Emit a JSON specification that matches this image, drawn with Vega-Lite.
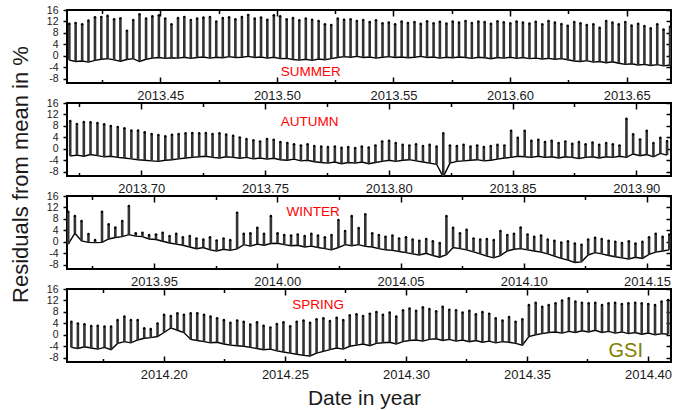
{
"$schema":"https://vega.github.io/schema/vega-lite/v6.json",
"padding":{"left":7,"top":4,"right":4,"bottom":2},
"spacing":20,
"bounds":"flush",
"config":{"font":"Liberation Sans","view":{"stroke":"black","strokeWidth":2},"axis":{"domain":false,"grid":false,"tickColor":"black","labelColor":"#1a1a1a","labelFont":"Liberation Sans","titleFont":"Liberation Sans","titleFontWeight":"normal","titleColor":"#1a1a1a","labelOverlap":false,"labelFlush":false}},
"datasets":{
"summer":[{"t":2013.411,"l":-1.5,"h":11.2},{"t":2013.4137,"l":-2,"h":11.5},{"t":2013.4165,"l":-1.8,"h":11},{"t":2013.4192,"l":-2.2,"h":12.3},{"t":2013.422,"l":-1.6,"h":13.5},{"t":2013.4247,"l":-1.2,"h":13.6},{"t":2013.4274,"l":-1,"h":14},{"t":2013.4302,"l":-1.4,"h":12.8},{"t":2013.4329,"l":-1.9,"h":13.1},{"t":2013.4357,"l":-1.3,"h":8.8},
{"t":2013.4384,"l":-1,"h":12.5},{"t":2013.4411,"l":-2,"h":14.5},{"t":2013.4439,"l":-1.2,"h":13},{"t":2013.4466,"l":-0.8,"h":13.8},{"t":2013.4494,"l":-0.6,"h":14.2},{"t":2013.4521,"l":-0.9,"h":13},{"t":2013.4548,"l":-0.7,"h":11},{"t":2013.4576,"l":-0.8,"h":13.2},{"t":2013.4603,"l":-0.5,"h":13.6},{"t":2013.4631,"l":-0.9,"h":12.5},
{"t":2013.4658,"l":-0.6,"h":13},{"t":2013.4685,"l":-0.4,"h":13.4},{"t":2013.4713,"l":-0.8,"h":13.6},{"t":2013.474,"l":-0.5,"h":12},{"t":2013.4768,"l":-0.7,"h":13.2},{"t":2013.4795,"l":-0.3,"h":13.5},{"t":2013.4822,"l":-0.6,"h":12.8},{"t":2013.485,"l":-0.5,"h":13.6},{"t":2013.4877,"l":-0.2,"h":14.3},{"t":2013.4905,"l":-0.6,"h":13},
{"t":2013.4932,"l":-0.4,"h":13.4},{"t":2013.4959,"l":-0.8,"h":12.6},{"t":2013.4987,"l":-0.5,"h":14.2},{"t":2013.5014,"l":-1,"h":13.8},{"t":2013.5042,"l":-0.9,"h":12.8},{"t":2013.5069,"l":-1.3,"h":13.2},{"t":2013.5096,"l":-1.5,"h":12.4},{"t":2013.5124,"l":-1.2,"h":13},{"t":2013.5151,"l":-1.6,"h":12.6},{"t":2013.5179,"l":-1.1,"h":12.2},
{"t":2013.5206,"l":-1.4,"h":11},{"t":2013.5233,"l":-1,"h":10.8},{"t":2013.5261,"l":-0.6,"h":13},{"t":2013.5288,"l":-0.3,"h":12.6},{"t":2013.5316,"l":-0.5,"h":12.8},{"t":2013.5343,"l":-0.2,"h":12.2},{"t":2013.537,"l":-0.6,"h":12.5},{"t":2013.5398,"l":-0.4,"h":11.8},{"t":2013.5425,"l":-0.8,"h":12.4},{"t":2013.5453,"l":-0.5,"h":11.4},
{"t":2013.548,"l":-0.3,"h":11.6},{"t":2013.5507,"l":-0.6,"h":11},{"t":2013.5535,"l":-0.4,"h":12},{"t":2013.5562,"l":-0.7,"h":11.5},{"t":2013.559,"l":-0.5,"h":11.8},{"t":2013.5617,"l":-0.2,"h":11.2},{"t":2013.5644,"l":-0.6,"h":12.1},{"t":2013.5672,"l":-0.4,"h":11.4},{"t":2013.5699,"l":-0.8,"h":11.9},{"t":2013.5727,"l":-0.5,"h":11.3},
{"t":2013.5754,"l":-0.7,"h":12},{"t":2013.5781,"l":-0.4,"h":11.6},{"t":2013.5809,"l":-0.6,"h":12.2},{"t":2013.5836,"l":-0.9,"h":11.5},{"t":2013.5864,"l":-0.5,"h":12},{"t":2013.5891,"l":-0.7,"h":11.8},{"t":2013.5918,"l":-1,"h":11.2},{"t":2013.5946,"l":-0.6,"h":12.1},{"t":2013.5973,"l":-0.8,"h":11.7},{"t":2013.6001,"l":-0.5,"h":11.4},
{"t":2013.6028,"l":-0.9,"h":12},{"t":2013.6055,"l":-0.6,"h":11.6},{"t":2013.6083,"l":-1,"h":11.3},{"t":2013.611,"l":-0.8,"h":11.9},{"t":2013.6138,"l":-1.1,"h":11},{"t":2013.6165,"l":-0.9,"h":12.2},{"t":2013.6192,"l":-1.2,"h":11.6},{"t":2013.622,"l":-1,"h":11.1},{"t":2013.6247,"l":-1.4,"h":10.5},{"t":2013.6275,"l":-1.8,"h":11.8},
{"t":2013.6302,"l":-2,"h":11.4},{"t":2013.6329,"l":-1.7,"h":10.8},{"t":2013.6357,"l":-2.2,"h":11},{"t":2013.6384,"l":-2,"h":9.8},{"t":2013.6412,"l":-2.4,"h":12.2},{"t":2013.6439,"l":-2.1,"h":11.6},{"t":2013.6466,"l":-2.6,"h":11},{"t":2013.6494,"l":-3,"h":11.8},{"t":2013.6521,"l":-2.8,"h":10.6},{"t":2013.6549,"l":-3.2,"h":11.2},
{"t":2013.6576,"l":-3,"h":10.4},{"t":2013.6603,"l":-3.4,"h":9.6},{"t":2013.6631,"l":-3.1,"h":11},{"t":2013.6658,"l":-3.5,"h":9.2},{"t":2013.6686,"l":-3.2,"h":10.2}],
"autumn":[{"t":2013.6713,"l":-2.5,"h":9.7},{"t":2013.674,"l":-2.2,"h":8.7},{"t":2013.6768,"l":-2.6,"h":9.4},{"t":2013.6795,"l":-2,"h":9.3},{"t":2013.6823,"l":-2.4,"h":9},
{"t":2013.685,"l":-2.8,"h":8.6},{"t":2013.6877,"l":-2.6,"h":8},{"t":2013.6905,"l":-3,"h":7.6},{"t":2013.6932,"l":-3.2,"h":7.2},{"t":2013.696,"l":-3.5,"h":6.4},{"t":2013.6987,"l":-3.8,"h":6.4},{"t":2013.7014,"l":-4,"h":5.8},{"t":2013.7042,"l":-4.2,"h":5.2},{"t":2013.7069,"l":-4.4,"h":4.8},{"t":2013.7097,"l":-4,"h":4.4},
{"t":2013.7124,"l":-3.8,"h":4.9},{"t":2013.7151,"l":-3.5,"h":5.2},{"t":2013.7179,"l":-3.2,"h":5.4},{"t":2013.7206,"l":-3,"h":5.5},{"t":2013.7234,"l":-2.8,"h":5.4},{"t":2013.7261,"l":-2.6,"h":5.5},{"t":2013.7288,"l":-3,"h":5.2},{"t":2013.7316,"l":-3.2,"h":5.4},{"t":2013.7343,"l":-2.8,"h":5},{"t":2013.7371,"l":-3,"h":4.6},
{"t":2013.7398,"l":-3.3,"h":4},{"t":2013.7425,"l":-3,"h":3.4},{"t":2013.7453,"l":-3.5,"h":3},{"t":2013.748,"l":-3.2,"h":2.6},{"t":2013.7508,"l":-3.6,"h":3.4},{"t":2013.7535,"l":-3.3,"h":3.2},{"t":2013.7562,"l":-3.8,"h":2.4},{"t":2013.759,"l":-4,"h":2},{"t":2013.7617,"l":-3.6,"h":1.6},{"t":2013.7645,"l":-4.2,"h":1.2},
{"t":2013.7672,"l":-4,"h":1.6},{"t":2013.7699,"l":-4.5,"h":1},{"t":2013.7727,"l":-4.8,"h":0.8},{"t":2013.7754,"l":-5,"h":0.6},{"t":2013.7782,"l":-4.6,"h":0.8},{"t":2013.7809,"l":-5.2,"h":0.4},{"t":2013.7836,"l":-4.8,"h":0.6},{"t":2013.7864,"l":-5,"h":0.3},{"t":2013.7891,"l":-4.6,"h":0.8},{"t":2013.7919,"l":-5.2,"h":0.5},
{"t":2013.7946,"l":-4.8,"h":1.2},{"t":2013.7973,"l":-4.4,"h":2.6},{"t":2013.8001,"l":-4,"h":2.8},{"t":2013.8028,"l":-4.4,"h":2},{"t":2013.8056,"l":-4,"h":1.4},{"t":2013.8083,"l":-3.8,"h":1.2},{"t":2013.811,"l":-4.2,"h":1.6},{"t":2013.8138,"l":-4.6,"h":1},{"t":2013.8165,"l":-5,"h":1.4},{"t":2013.8193,"l":-5.4,"h":0.8},
{"t":2013.822,"l":-9.8,"h":5.4},{"t":2013.8247,"l":-5,"h":1.2},{"t":2013.8275,"l":-4.4,"h":1},{"t":2013.8302,"l":-4.2,"h":1.4},{"t":2013.833,"l":-4,"h":0.8},{"t":2013.8357,"l":-3.8,"h":1.2},{"t":2013.8384,"l":-4.2,"h":0.6},{"t":2013.8412,"l":-4,"h":1},{"t":2013.8439,"l":-3.6,"h":1.4},{"t":2013.8467,"l":-3.2,"h":1.2},
{"t":2013.8494,"l":-3,"h":6.3},{"t":2013.8521,"l":-2.6,"h":3.9},{"t":2013.8549,"l":-2.8,"h":6.3},{"t":2013.8576,"l":-3,"h":2.8},{"t":2013.8604,"l":-2.6,"h":3.2},{"t":2013.8631,"l":-3,"h":2.4},{"t":2013.8658,"l":-2.8,"h":2.8},{"t":2013.8686,"l":-3.2,"h":2},{"t":2013.8713,"l":-2.8,"h":2.6},{"t":2013.8741,"l":-3,"h":1.8},
{"t":2013.8768,"l":-3.4,"h":2.4},{"t":2013.8795,"l":-3,"h":1.6},{"t":2013.8823,"l":-2.8,"h":2.2},{"t":2013.885,"l":-3.2,"h":1.4},{"t":2013.8878,"l":-2.8,"h":2},{"t":2013.8905,"l":-3,"h":1.6},{"t":2013.8932,"l":-2.6,"h":1.2},{"t":2013.896,"l":-3,"h":10.5},{"t":2013.8987,"l":-1.8,"h":5.1},{"t":2013.9015,"l":-2.4,"h":3.3},
{"t":2013.9042,"l":-2,"h":6.3},{"t":2013.9069,"l":-2.8,"h":2},{"t":2013.9097,"l":-1.6,"h":3.9},{"t":2013.9124,"l":-2.2,"h":2.7}],
"winter":[{"t":2013.9152,"l":-0.8,"h":10.5},{"t":2013.9179,"l":3,"h":9},{"t":2013.9206,"l":0.3,"h":7.3},{"t":2013.9234,"l":-0.2,"h":2.7},{"t":2013.9261,"l":-0.3,"h":0.6},{"t":2013.9289,"l":-0.2,"h":10.5},
{"t":2013.9316,"l":1,"h":6.1},{"t":2013.9343,"l":1.5,"h":5},{"t":2013.9371,"l":1.8,"h":7.3},{"t":2013.9398,"l":2.5,"h":12.5},{"t":2013.9426,"l":2,"h":3},{"t":2013.9453,"l":1.8,"h":3.2},{"t":2013.948,"l":1,"h":2.4},{"t":2013.9508,"l":0.8,"h":2.6},{"t":2013.9535,"l":0.2,"h":3.2},{"t":2013.9563,"l":-0.4,"h":2},
{"t":2013.959,"l":-0.8,"h":2.8},{"t":2013.9617,"l":-1.2,"h":1.6},{"t":2013.9645,"l":-1.8,"h":2},{"t":2013.9672,"l":-2.4,"h":1.2},{"t":2013.97,"l":-2,"h":0.8},{"t":2013.9727,"l":-2.8,"h":1.6},{"t":2013.9754,"l":-3.2,"h":0.5},{"t":2013.9782,"l":-2.6,"h":1.2},{"t":2013.9809,"l":-3,"h":0.6},{"t":2013.9837,"l":-2.5,"h":10.2},
{"t":2013.9864,"l":-1,"h":2.8},{"t":2013.9891,"l":-1.5,"h":3},{"t":2013.9919,"l":-0.8,"h":4.9},{"t":2013.9946,"l":-1.2,"h":2.8},{"t":2013.9974,"l":-0.6,"h":9},{"t":2014.0001,"l":-0.5,"h":3},{"t":2014.0028,"l":-1,"h":2.4},{"t":2014.0056,"l":-1.4,"h":2.2},{"t":2014.0083,"l":-1.2,"h":2.6},{"t":2014.0111,"l":-1.8,"h":2},
{"t":2014.0138,"l":-1.5,"h":2.8},{"t":2014.0165,"l":-2,"h":2.2},{"t":2014.0193,"l":-2.4,"h":1.6},{"t":2014.022,"l":-2.8,"h":2.4},{"t":2014.0248,"l":-2,"h":7.6},{"t":2014.0275,"l":-1,"h":3.8},{"t":2014.0302,"l":-1.4,"h":9},{"t":2014.033,"l":-1,"h":4.8},{"t":2014.0357,"l":-1.6,"h":9.6},{"t":2014.0385,"l":-1.8,"h":3},
{"t":2014.0412,"l":-2.4,"h":2.4},{"t":2014.0439,"l":-2.8,"h":1.8},{"t":2014.0467,"l":-3,"h":2.2},{"t":2014.0494,"l":-3.4,"h":1.2},{"t":2014.0522,"l":-3.8,"h":1.6},{"t":2014.0549,"l":-4.2,"h":0.8},{"t":2014.0576,"l":-4.6,"h":0.4},{"t":2014.0604,"l":-4,"h":1},{"t":2014.0631,"l":-4.8,"h":0.2},{"t":2014.0659,"l":-5.4,"h":-0.4},
{"t":2014.0686,"l":-4.5,"h":9},{"t":2014.0713,"l":-2,"h":4.9},{"t":2014.0741,"l":-2.4,"h":3},{"t":2014.0768,"l":-2.8,"h":4.2},{"t":2014.0796,"l":-3.5,"h":1.2},{"t":2014.0823,"l":-4.2,"h":0.8},{"t":2014.085,"l":-5,"h":1},{"t":2014.0878,"l":-5.6,"h":0.6},{"t":2014.0905,"l":-4.8,"h":3.8},{"t":2014.0933,"l":-3.2,"h":2.4},
{"t":2014.096,"l":-2.6,"h":2.8},{"t":2014.0987,"l":-2.4,"h":5},{"t":2014.1015,"l":-2.8,"h":2.6},{"t":2014.1042,"l":-3.2,"h":1.8},{"t":2014.107,"l":-3.6,"h":2.2},{"t":2014.1097,"l":-4.2,"h":0.8},{"t":2014.1124,"l":-5,"h":0.4},{"t":2014.1152,"l":-5.8,"h":-0.2},{"t":2014.1179,"l":-6.4,"h":0.2},{"t":2014.1207,"l":-7.2,"h":-0.6},
{"t":2014.1234,"l":-7,"h":-1},{"t":2014.1261,"l":-4.6,"h":0.8},{"t":2014.1289,"l":-3.8,"h":1.4},{"t":2014.1316,"l":-4.2,"h":1},{"t":2014.1344,"l":-4.8,"h":0.4},{"t":2014.1371,"l":-5.2,"h":0},{"t":2014.1398,"l":-5.6,"h":-0.4},{"t":2014.1426,"l":-6,"h":0.2},{"t":2014.1453,"l":-5.4,"h":-0.6},{"t":2014.1481,"l":-5.8,"h":0},
{"t":2014.1508,"l":-4.4,"h":1.6},{"t":2014.1535,"l":-3.6,"h":2.8},{"t":2014.1563,"l":-3.2,"h":1.8},{"t":2014.159,"l":-2.8,"h":2.6}],
"spring":[{"t":2014.1618,"l":-4.4,"h":4.6},{"t":2014.1645,"l":-4.8,"h":4},{"t":2014.1672,"l":-4.2,"h":3.7},{"t":2014.17,"l":-4.6,"h":3.1},{"t":2014.1727,"l":-5,"h":3.2},{"t":2014.1755,"l":-4.4,"h":2.9},
{"t":2014.1782,"l":-5.2,"h":2.9},{"t":2014.1809,"l":-3,"h":5.2},{"t":2014.1837,"l":-2.4,"h":6.4},{"t":2014.1864,"l":-2.8,"h":5.2},{"t":2014.1892,"l":-1.8,"h":5.2},{"t":2014.1919,"l":-1.2,"h":2.3},{"t":2014.1946,"l":-1,"h":2},{"t":2014.1974,"l":-0.6,"h":4},{"t":2014.2001,"l":0.8,"h":7},{"t":2014.2029,"l":2.4,"h":6.6},
{"t":2014.2056,"l":1.6,"h":7.5},{"t":2014.2083,"l":0.8,"h":7},{"t":2014.2111,"l":-1.6,"h":7.5},{"t":2014.2138,"l":-2,"h":7.5},{"t":2014.2166,"l":-2.4,"h":7},{"t":2014.2193,"l":-2.8,"h":6.4},{"t":2014.222,"l":-2.6,"h":5.8},{"t":2014.2248,"l":-3.2,"h":5.2},{"t":2014.2275,"l":-3.6,"h":4.2},{"t":2014.2303,"l":-3.8,"h":5},
{"t":2014.233,"l":-4,"h":4.6},{"t":2014.2357,"l":-4.4,"h":3.6},{"t":2014.2385,"l":-4.8,"h":4.4},{"t":2014.2412,"l":-5.2,"h":3.2},{"t":2014.244,"l":-5,"h":2.6},{"t":2014.2467,"l":-5.6,"h":3.8},{"t":2014.2494,"l":-6,"h":4.4},{"t":2014.2522,"l":-6.4,"h":3},{"t":2014.2549,"l":-6.8,"h":4.6},{"t":2014.2577,"l":-7.2,"h":5},
{"t":2014.2604,"l":-7.4,"h":4.2},{"t":2014.2631,"l":-6.4,"h":5.4},{"t":2014.2659,"l":-5.8,"h":5.8},{"t":2014.2686,"l":-5.2,"h":4.8},{"t":2014.2714,"l":-4.6,"h":6},{"t":2014.2741,"l":-5,"h":5.2},{"t":2014.2768,"l":-4,"h":6.8},{"t":2014.2796,"l":-3.6,"h":7.2},{"t":2014.2823,"l":-3.2,"h":6.6},{"t":2014.2851,"l":-3.8,"h":7.4},
{"t":2014.2878,"l":-3,"h":8},{"t":2014.2905,"l":-2.8,"h":7},{"t":2014.2933,"l":-2.6,"h":7.8},{"t":2014.296,"l":-3.2,"h":6.4},{"t":2014.2988,"l":-2.4,"h":8.6},{"t":2014.3015,"l":-2,"h":9.2},{"t":2014.3042,"l":-1.8,"h":8.4},{"t":2014.307,"l":-2.2,"h":9.6},{"t":2014.3097,"l":-1.6,"h":9},{"t":2014.3125,"l":-1.4,"h":8.2},
{"t":2014.3152,"l":-2,"h":9.8},{"t":2014.3179,"l":-1.6,"h":8.8},{"t":2014.3207,"l":-2.2,"h":8.6},{"t":2014.3234,"l":-1.8,"h":7.8},{"t":2014.3262,"l":-2.4,"h":8.4},{"t":2014.3289,"l":-2,"h":7.2},{"t":2014.3316,"l":-2.6,"h":8},{"t":2014.3344,"l":-2.2,"h":7.4},{"t":2014.3371,"l":-2.8,"h":5.8},{"t":2014.3399,"l":-2.4,"h":5},
{"t":2014.3426,"l":-2.6,"h":6.2},{"t":2014.3453,"l":-3,"h":4.6},{"t":2014.3481,"l":-3.6,"h":5.4},{"t":2014.3508,"l":-0.6,"h":10.4},{"t":2014.3536,"l":0,"h":11.2},{"t":2014.3563,"l":0.4,"h":9.8},{"t":2014.359,"l":0.8,"h":10.4},{"t":2014.3618,"l":1,"h":11},{"t":2014.3645,"l":0.6,"h":12},{"t":2014.3673,"l":1.2,"h":12.8},
{"t":2014.37,"l":0.8,"h":11.6},{"t":2014.3727,"l":1.4,"h":11.2},{"t":2014.3755,"l":1,"h":11},{"t":2014.3782,"l":1.6,"h":11.2},{"t":2014.381,"l":0.8,"h":10.4},{"t":2014.3837,"l":1.2,"h":11},{"t":2014.3864,"l":0.6,"h":11.2},{"t":2014.3892,"l":1,"h":10.8},{"t":2014.3919,"l":0.4,"h":11},{"t":2014.3947,"l":0.8,"h":11.2},
{"t":2014.3974,"l":0.2,"h":11},{"t":2014.4001,"l":0.6,"h":10.8},{"t":2014.4029,"l":0,"h":10.4},{"t":2014.4056,"l":0.4,"h":11.6},{"t":2014.4083,"l":0.2,"h":12.2}]
},
"vconcat":[
{"width":604,"height":73,"data":{"name":"summer"},
"layer":[
{"mark":{"type":"line","color":"black","strokeWidth":1.4,"clip":true},
"encoding":{"x":{"field":"t","type":"quantitative","scale":{"domain":[2013.41,2013.669],"nice":false,"zero":false},"axis":{"orient":"bottom","title":null,"values":[2013.425,2013.45,2013.475,2013.5,2013.525,2013.55,2013.575,2013.6,2013.625,2013.65],"format":".2f","labelExpr":"abs(datum.value*20-round(datum.value*20))<0.01 ? datum.label : ''","tickSize":{"condition":{"test":"abs(datum.value*20-round(datum.value*20))<0.01","value":-6},"value":-3.5},"tickWidth":1.5,"labelFontSize":13,"labelPadding":12}},
"y":{"field":"l","type":"quantitative","scale":{"domain":[-9.5,16],"nice":false,"zero":false},"axis":{"orient":"left","title":null,"values":[-8,-4,0,4,8,12,16],"labelExpr":"datum.value < 0 ? '-' + abs(datum.value) : '' + datum.value","tickSize":4,"tickWidth":1.5,"labelFontSize":10.5,"labelPadding":5}}}},
{"mark":{"type":"rule","color":"#333333","strokeWidth":2.6,"clip":true},
"encoding":{"x":{"field":"t","type":"quantitative","axis":{"orient":"top","title":null,"labels":false,"values":[2013.425,2013.45,2013.475,2013.5,2013.525,2013.55,2013.575,2013.6,2013.625,2013.65],"tickSize":{"condition":{"test":"abs(datum.value*20-round(datum.value*20))<0.01","value":-6},"value":-3.5},"tickWidth":1.5}},
"y":{"field":"l","type":"quantitative","axis":{"orient":"right","title":null,"labels":false,"values":[-8,-4,0,4,8,12,16],"tickSize":-5,"tickWidth":1.5}},"y2":{"field":"h"}}},
{"mark":{"type":"point","filled":true,"color":"black","size":6,"opacity":1,"clip":true},
"encoding":{"x":{"field":"t","type":"quantitative","axis":null},"y":{"field":"h","type":"quantitative","axis":null}}},
{"data":{"values":[{"t":2013.5145,"v":-5.5,"s":"SUMMER"}]},"mark":{"type":"text","color":"#ff0000","fontSize":13.5,"font":"Liberation Sans"},
"encoding":{"x":{"field":"t","type":"quantitative","axis":null},"y":{"field":"v","type":"quantitative","axis":null},"text":{"field":"s"}}}
],
"resolve":{"axis":{"x":"independent","y":"independent"}}},
{"width":604,"height":73,"data":{"name":"autumn"},
"layer":[
{"mark":{"type":"line","color":"black","strokeWidth":1.4,"clip":true},
"encoding":{"x":{"field":"t","type":"quantitative","scale":{"domain":[2013.67,2013.914],"nice":false,"zero":false},"axis":{"orient":"bottom","title":null,"values":[2013.675,2013.7,2013.725,2013.75,2013.775,2013.8,2013.825,2013.85,2013.875,2013.9],"format":".2f","labelExpr":"abs(datum.value*20-round(datum.value*20))<0.01 ? datum.label : ''","tickSize":{"condition":{"test":"abs(datum.value*20-round(datum.value*20))<0.01","value":-6},"value":-3.5},"tickWidth":1.5,"labelFontSize":13,"labelPadding":12}},
"y":{"field":"l","type":"quantitative","scale":{"domain":[-9.5,16],"nice":false,"zero":false},"axis":{"orient":"left","title":"Residuals from mean in %","titleFontSize":22,"titleX":-40,"titleY":71,"titleBaseline":"alphabetic","values":[-8,-4,0,4,8,12,16],"labelExpr":"datum.value < 0 ? '-' + abs(datum.value) : '' + datum.value","tickSize":4,"tickWidth":1.5,"labelFontSize":10.5,"labelPadding":5}}}},
{"mark":{"type":"rule","color":"#333333","strokeWidth":2.6,"clip":true},
"encoding":{"x":{"field":"t","type":"quantitative","axis":{"orient":"top","title":null,"labels":false,"values":[2013.675,2013.7,2013.725,2013.75,2013.775,2013.8,2013.825,2013.85,2013.875,2013.9],"tickSize":{"condition":{"test":"abs(datum.value*20-round(datum.value*20))<0.01","value":-6},"value":-3.5},"tickWidth":1.5}},
"y":{"field":"l","type":"quantitative","axis":{"orient":"right","title":null,"labels":false,"values":[-8,-4,0,4,8,12,16],"tickSize":-5,"tickWidth":1.5}},"y2":{"field":"h"}}},
{"mark":{"type":"point","filled":true,"color":"black","size":6,"opacity":1,"clip":true},
"encoding":{"x":{"field":"t","type":"quantitative","axis":null},"y":{"field":"h","type":"quantitative","axis":null}}},
{"data":{"values":[{"t":2013.768,"v":9.3,"s":"AUTUMN"}]},"mark":{"type":"text","color":"#ff0000","fontSize":13.5,"font":"Liberation Sans"},
"encoding":{"x":{"field":"t","type":"quantitative","axis":null},"y":{"field":"v","type":"quantitative","axis":null},"text":{"field":"s"}}}
],
"resolve":{"axis":{"x":"independent","y":"independent"}}},
{"width":604,"height":73,"data":{"name":"winter"},
"layer":[
{"mark":{"type":"line","color":"black","strokeWidth":1.4,"clip":true},
"encoding":{"x":{"field":"t","type":"quantitative","scale":{"domain":[2013.9147,2014.1597],"nice":false,"zero":false},"axis":{"orient":"bottom","title":null,"values":[2013.925,2013.95,2013.975,2014,2014.025,2014.05,2014.075,2014.1,2014.125,2014.15],"format":".2f","labelExpr":"abs(datum.value*20-round(datum.value*20))<0.01 ? datum.label : ''","tickSize":{"condition":{"test":"abs(datum.value*20-round(datum.value*20))<0.01","value":-6},"value":-3.5},"tickWidth":1.5,"labelFontSize":13,"labelPadding":12}},
"y":{"field":"l","type":"quantitative","scale":{"domain":[-9.5,16],"nice":false,"zero":false},"axis":{"orient":"left","title":null,"values":[-8,-4,0,4,8,12,16],"labelExpr":"datum.value < 0 ? '-' + abs(datum.value) : '' + datum.value","tickSize":4,"tickWidth":1.5,"labelFontSize":10.5,"labelPadding":5}}}},
{"mark":{"type":"rule","color":"#333333","strokeWidth":2.6,"clip":true},
"encoding":{"x":{"field":"t","type":"quantitative","axis":{"orient":"top","title":null,"labels":false,"values":[2013.925,2013.95,2013.975,2014,2014.025,2014.05,2014.075,2014.1,2014.125,2014.15],"tickSize":{"condition":{"test":"abs(datum.value*20-round(datum.value*20))<0.01","value":-6},"value":-3.5},"tickWidth":1.5}},
"y":{"field":"l","type":"quantitative","axis":{"orient":"right","title":null,"labels":false,"values":[-8,-4,0,4,8,12,16],"tickSize":-5,"tickWidth":1.5}},"y2":{"field":"h"}}},
{"mark":{"type":"point","filled":true,"color":"black","size":6,"opacity":1,"clip":true},
"encoding":{"x":{"field":"t","type":"quantitative","axis":null},"y":{"field":"h","type":"quantitative","axis":null}}},
{"data":{"values":[{"t":2014.0145,"v":10.5,"s":"WINTER"}]},"mark":{"type":"text","color":"#ff0000","fontSize":13.5,"font":"Liberation Sans"},
"encoding":{"x":{"field":"t","type":"quantitative","axis":null},"y":{"field":"v","type":"quantitative","axis":null},"text":{"field":"s"}}}
],
"resolve":{"axis":{"x":"independent","y":"independent"}}},
{"width":604,"height":73,"data":{"name":"spring"},
"layer":[
{"mark":{"type":"line","color":"black","strokeWidth":1.4,"clip":true},
"encoding":{"x":{"field":"t","type":"quantitative","scale":{"domain":[2014.16,2014.4095],"nice":false,"zero":false},"axis":{"orient":"bottom","title":"Date in year","titleFontSize":21,"titleX":297,"titleY":42,"titleBaseline":"alphabetic","values":[2014.175,2014.2,2014.225,2014.25,2014.275,2014.3,2014.325,2014.35,2014.375,2014.4],"format":".2f","labelExpr":"abs(datum.value*20-round(datum.value*20))<0.01 ? datum.label : ''","tickSize":{"condition":{"test":"abs(datum.value*20-round(datum.value*20))<0.01","value":-6},"value":-3.5},"tickWidth":1.5,"labelFontSize":13,"labelPadding":12}},
"y":{"field":"l","type":"quantitative","scale":{"domain":[-9.5,16],"nice":false,"zero":false},"axis":{"orient":"left","title":null,"values":[-8,-4,0,4,8,12,16],"labelExpr":"datum.value < 0 ? '-' + abs(datum.value) : '' + datum.value","tickSize":4,"tickWidth":1.5,"labelFontSize":10.5,"labelPadding":5}}}},
{"mark":{"type":"rule","color":"#333333","strokeWidth":2.6,"clip":true},
"encoding":{"x":{"field":"t","type":"quantitative","axis":{"orient":"top","title":null,"labels":false,"values":[2014.175,2014.2,2014.225,2014.25,2014.275,2014.3,2014.325,2014.35,2014.375,2014.4],"tickSize":{"condition":{"test":"abs(datum.value*20-round(datum.value*20))<0.01","value":-6},"value":-3.5},"tickWidth":1.5}},
"y":{"field":"l","type":"quantitative","axis":{"orient":"right","title":null,"labels":false,"values":[-8,-4,0,4,8,12,16],"tickSize":-5,"tickWidth":1.5}},"y2":{"field":"h"}}},
{"mark":{"type":"point","filled":true,"color":"black","size":6,"opacity":1,"clip":true},
"encoding":{"x":{"field":"t","type":"quantitative","axis":null},"y":{"field":"h","type":"quantitative","axis":null}}},
{"data":{"values":[{"t":2014.2637,"v":10.4,"s":"SPRING"},{"t":2014.3908,"v":-5.6,"s":"GSI"}]},"mark":{"type":"text","font":"Liberation Sans"},
"encoding":{"x":{"field":"t","type":"quantitative","axis":null},"y":{"field":"v","type":"quantitative","axis":null},"text":{"field":"s"},
"color":{"field":"s","type":"nominal","scale":{"domain":["SPRING","GSI"],"range":["#ff0000","#808000"]},"legend":null},
"size":{"field":"s","type":"nominal","scale":{"domain":["SPRING","GSI"],"range":[13.5,20]},"legend":null}}}
],
"resolve":{"axis":{"x":"independent","y":"independent"}}}
]
}
